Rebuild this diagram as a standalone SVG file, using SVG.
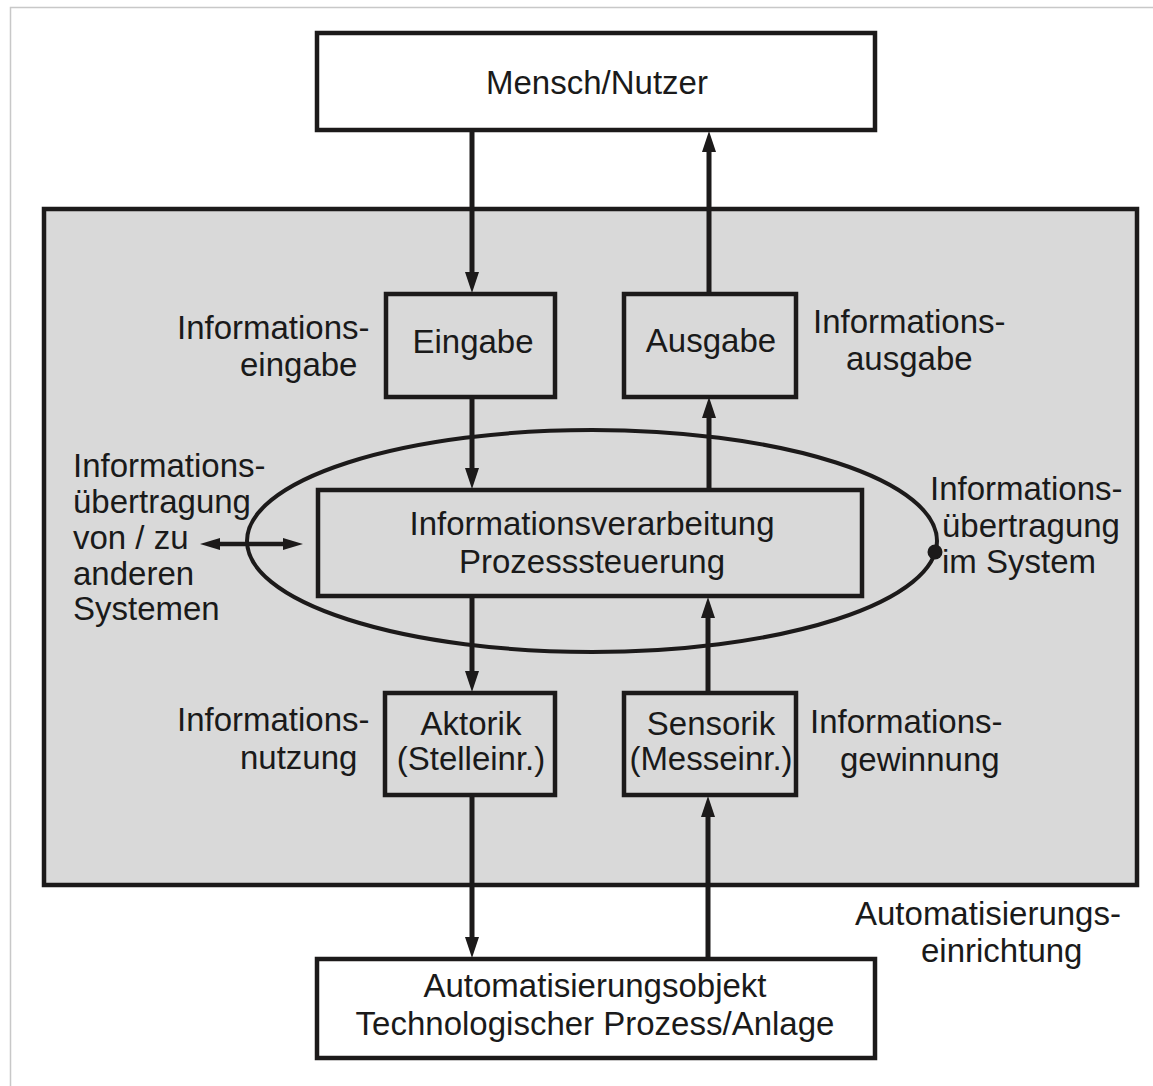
<svg xmlns="http://www.w3.org/2000/svg" width="1153" height="1086" viewBox="0 0 1153 1086">
<style>
.box{fill:#ffffff;stroke:#1c1a1a;stroke-width:4.5}
.gbox{fill:#d9d9d9;stroke:#1c1a1a;stroke-width:4.5}
.big{fill:#d9d9d9;stroke:#1c1a1a;stroke-width:4.5}
.t{font-family:"Liberation Sans",Arial,sans-serif;font-size:33px;fill:#1a1a1a}
.c{text-anchor:middle}
.ln{stroke:#1c1a1a;stroke-width:5;fill:none}
</style>
<defs>
<marker id="ah" markerUnits="userSpaceOnUse" markerWidth="24" markerHeight="18" viewBox="0 -9 24 18" refX="2" refY="0" orient="auto">
<path d="M0,-7 L21,0 L0,7 z" fill="#1c1a1a"/>
</marker>
<marker id="ahs" markerUnits="userSpaceOnUse" markerWidth="24" markerHeight="18" viewBox="0 -9 24 18" refX="2" refY="0" orient="auto-start-reverse">
<path d="M0,-6 L20,0 L0,6 z" fill="#1c1a1a"/>
</marker>
</defs>
<rect width="1153" height="1086" fill="#ffffff"/>
<path d="M10.5,1086 V7.5 H1153" fill="none" stroke="#c8c8c8" stroke-width="1.5"/>

<g id="automatisierungseinrichtung">
<rect class="big" x="44" y="209" width="1093" height="676"/>
<text class="t" x="855" y="925">Automatisierungs-</text>
<text class="t" x="921" y="962">einrichtung</text>
</g>

<g id="mensch">
<rect class="box" x="317" y="33" width="558" height="97"/>
<text class="t c" x="597" y="94">Mensch/Nutzer</text>
</g>

<g id="ellipse">
<ellipse cx="592" cy="541" rx="345" ry="111" fill="none" stroke="#1c1a1a" stroke-width="4"/>
<circle cx="935" cy="552" r="7.5" fill="#1c1a1a"/>
</g>

<g id="eingabe">
<rect class="gbox" x="386" y="294" width="169" height="103"/>
<text class="t c" x="473" y="353">Eingabe</text>
</g>
<g id="ausgabe">
<rect class="gbox" x="624" y="294" width="172" height="103"/>
<text class="t c" x="711" y="352">Ausgabe</text>
</g>
<g id="verarbeitung">
<rect class="gbox" x="318" y="490" width="544" height="106"/>
<text class="t c" x="592" y="535">Informationsverarbeitung</text>
<text class="t c" x="592" y="573">Prozesssteuerung</text>
</g>
<g id="aktorik">
<rect class="gbox" x="385" y="693" width="170" height="102"/>
<text class="t c" x="471" y="735">Aktorik</text>
<text class="t c" x="471" y="770">(Stelleinr.)</text>
</g>
<g id="sensorik">
<rect class="gbox" x="624" y="693" width="172" height="102"/>
<text class="t c" x="711" y="735">Sensorik</text>
<text class="t c" x="711" y="770">(Messeinr.)</text>
</g>
<g id="objekt">
<rect class="box" x="317" y="959" width="558" height="99"/>
<text class="t c" x="595" y="997">Automatisierungsobjekt</text>
<text class="t c" x="595" y="1035">Technologischer Prozess/Anlage</text>
</g>

<g id="labels">
<text class="t" x="177" y="339">Informations-</text>
<text class="t" x="240" y="376">eingabe</text>
<text class="t" x="813" y="333">Informations-</text>
<text class="t" x="846" y="370">ausgabe</text>
<text class="t" x="73" y="477">Informations-</text>
<text class="t" x="73" y="513">übertragung</text>
<text class="t" x="73" y="549">von / zu</text>
<text class="t" x="73" y="585">anderen</text>
<text class="t" x="73" y="620">Systemen</text>
<text class="t" x="930" y="500">Informations-</text>
<text class="t" x="942" y="537">übertragung</text>
<text class="t" x="942" y="573">im System</text>
<text class="t" x="177" y="731">Informations-</text>
<text class="t" x="240" y="769">nutzung</text>
<text class="t" x="810" y="733">Informations-</text>
<text class="t" x="840" y="771">gewinnung</text>
</g>

<g id="connectors">
<line class="ln" x1="472" y1="130" x2="472" y2="274" marker-end="url(#ah)"/>
<line class="ln" x1="472" y1="397" x2="472" y2="470" marker-end="url(#ah)"/>
<line class="ln" x1="709" y1="490" x2="709" y2="416" marker-end="url(#ah)"/>
<line class="ln" x1="709" y1="294" x2="709" y2="150" marker-end="url(#ah)"/>
<line class="ln" x1="472" y1="596" x2="472" y2="673" marker-end="url(#ah)"/>
<line class="ln" x1="472" y1="795" x2="472" y2="939" marker-end="url(#ah)"/>
<line class="ln" x1="708" y1="959" x2="708" y2="815" marker-end="url(#ah)"/>
<line class="ln" x1="708" y1="693" x2="708" y2="616" marker-end="url(#ah)"/>
<line x1="218" y1="544" x2="285" y2="544" stroke="#1c1a1a" stroke-width="4.5" marker-start="url(#ahs)" marker-end="url(#ahs)"/>
</g>
</svg>
